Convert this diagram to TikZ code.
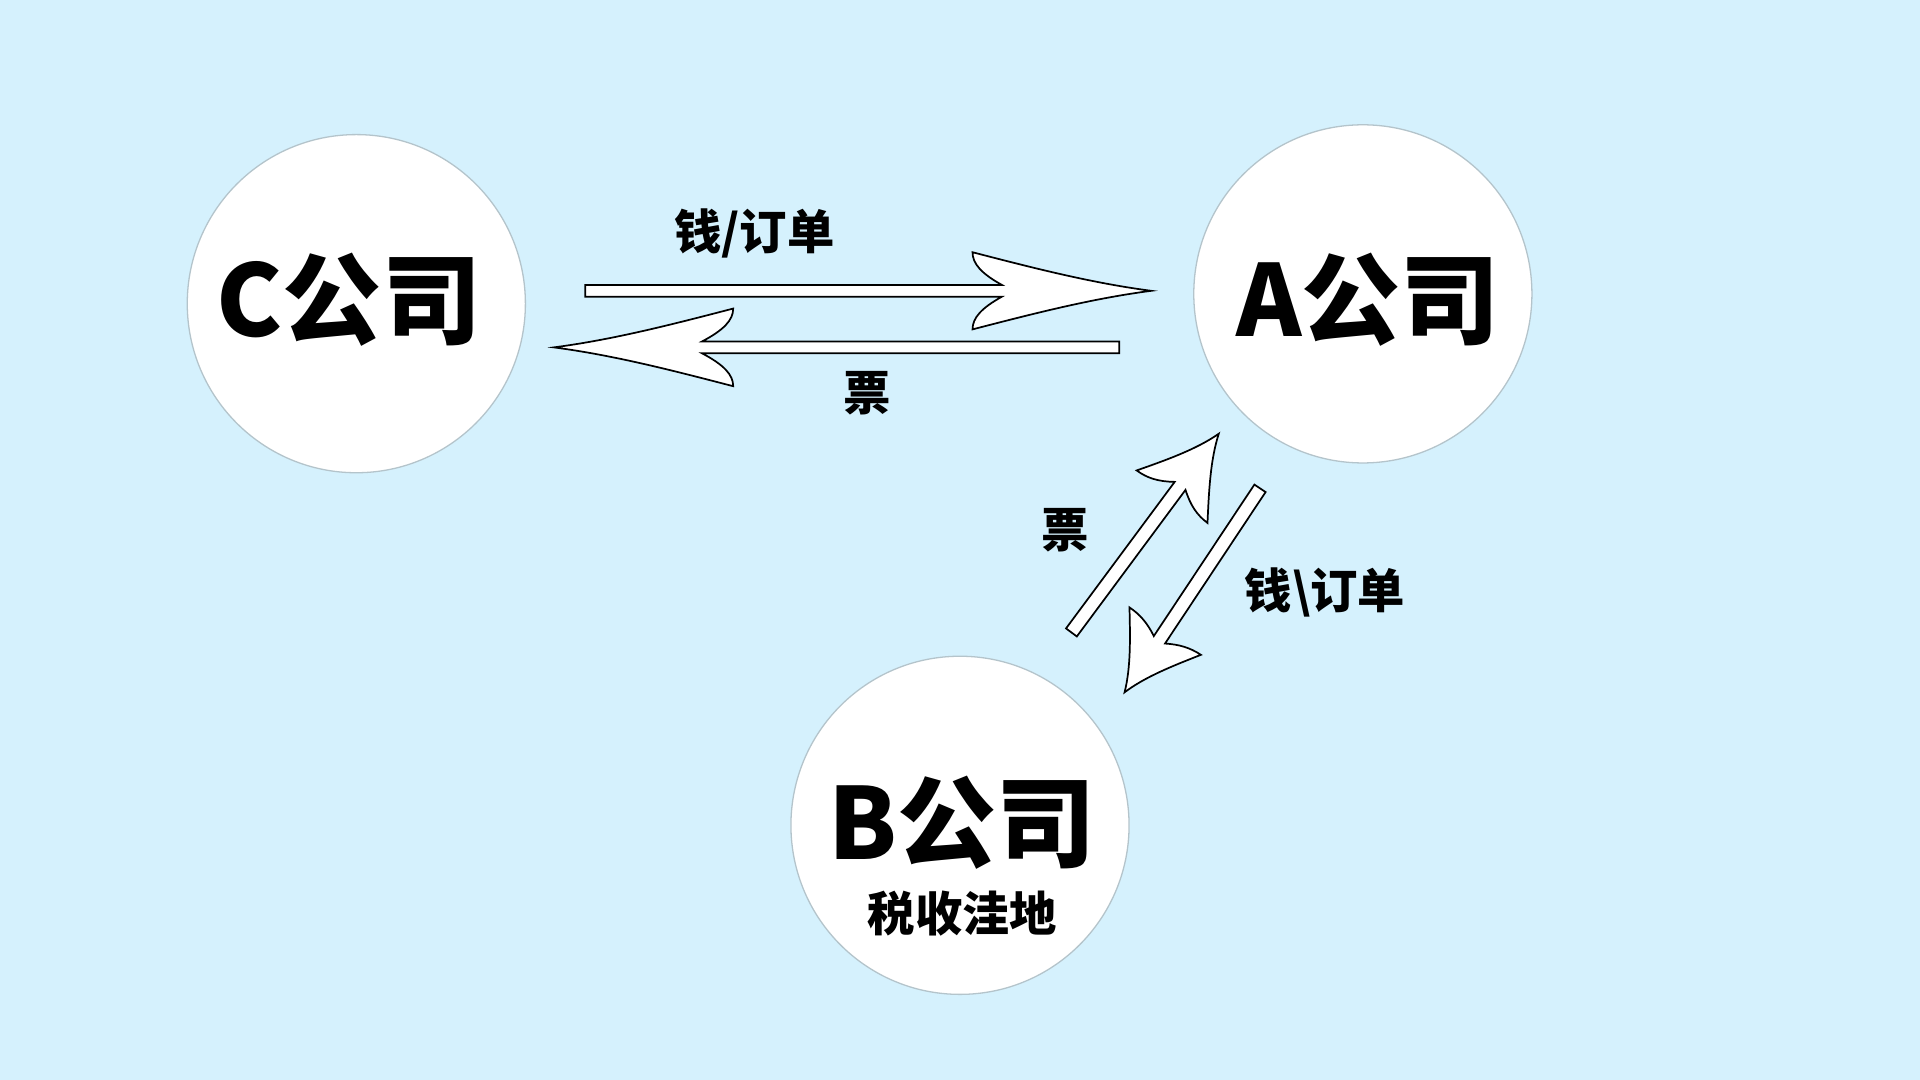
\documentclass[tikz,border=0pt]{standalone}
\usepackage{fontspec}
\newfontfamily\cjk{Noto Sans CJK SC}
\usepackage{tikz}
\usetikzlibrary{
  positioning,
  calc
}
\definecolor{txBack}{HTML}{D5F1FD}
\definecolor{txRim}{HTML}{B4C4CB}
\tikzset{
  firm/.style={
    circle, draw=txRim, line width=0.3pt, fill=white, minimum size=2.76cm, inner sep=0pt
  },
  firmname/.style={font=\cjk\bfseries\fontsize{23pt}{27pt}\selectfont, inner sep=0pt},
  firmnote/.style={font=\cjk\bfseries\fontsize{11pt}{13pt}\selectfont, inner sep=0pt},
  flowtag/.style={font=\cjk\bfseries\fontsize{11pt}{13pt}\selectfont, inner sep=0pt},
  fatarrow/.style={draw=black, line width=0.4pt, fill=white, line join=miter}
}
% #1 from, #2 to, #3 notch depth, #4 barb depth, #5 half spread, #6 half shaft
\newcommand{\fatarrow}[6]{%
  \path let \p1=($(#2)-(#1)$) in \pgfextra{%
    \pgfmathsetmacro{\fatlen}{veclen(\x1,\y1)/0.284528}%
    \pgfmathsetmacro{\fatang}{atan2(\y1,\x1)}%
    \xdef\fatlen{\fatlen}\xdef\fatang{\fatang}};
  \pgfmathsetmacro{\fatnotch}{\fatlen-#3}%
  \pgfmathsetmacro{\fatbarb}{\fatlen-#4}%
  \begin{scope}[shift={(#1)}, rotate=\fatang, x=0.01cm, y=0.01cm]
    \draw[fatarrow] (0,-#6) -- (\fatnotch,-#6)
      .. controls ({\fatnotch-0.7*(#4-#3)},{-#6-0.35*(#5-#6)}) and (\fatbarb,{-#5+0.35*(#5-#6)}) .. (\fatbarb,-#5)
      .. controls ({\fatbarb+#4/3},{-0.6*#5}) and ({\fatlen-#4/3},{-0.2*#5}) .. (\fatlen,0)
      .. controls ({\fatlen-#4/3},{0.2*#5}) and ({\fatbarb+#4/3},{0.6*#5}) .. (\fatbarb,#5)
      .. controls (\fatbarb,{#5-0.35*(#5-#6)}) and ({\fatnotch-0.7*(#4-#3)},{#6+0.35*(#5-#6)}) .. (\fatnotch,#6)
      -- (0,#6) -- cycle;
  \end{scope}}

\begin{document}
\begin{tikzpicture}[x=0.01cm, y=-0.01cm]
  \fill[txBack] (0,0) rectangle (1568,882);
  \useasboundingbox (0,0) rectangle (1568,882);

  \node[firm] (c) at (291,248) {};
  \node[firm] (a) at (1113,240) {};
  \node[firm] (b) at (784,674) {};
  \node[firmname] (cname) at (285,245) {C公司};
  \node[firmname] (aname) at (1117,245) {A公司};
  \node[firmname] (bname) at (786,672) {B公司};
  \node[firmnote, below=1.6mm of bname] (bnote) {税收洼地};

  \coordinate (ca-s) at (478,237.5);
  \coordinate (ca-e) at (940.5,237.5);
  \coordinate (ac-s) at (914,283.7);
  \coordinate (ac-e) at (452,283.7);
  \coordinate (ba-s) at (875,516.5);
  \coordinate (ba-e) at (995.5,354);
  \coordinate (ab-s) at (1029,398.8);
  \coordinate (ab-e) at (918.2,565.7);
  \fatarrow{ca-s}{ca-e}{122}{146}{31.5}{4.8}
  \fatarrow{ac-s}{ac-e}{121}{146.5}{31.7}{4.8}
  \fatarrow{ba-s}{ba-e}{53}{64}{36}{5.5}
  \fatarrow{ab-s}{ab-e}{51.5}{60}{35}{5.5}

  \node[flowtag] (catag) at (616,191) {钱/订单};
  \node[flowtag] (actag) at (708,321) {票};
  \node[flowtag] (batag) at (870,433) {票};
  \node[flowtag] (abtag) at (1082,484) {钱\textbackslash 订单};
\end{tikzpicture}
\end{document}
